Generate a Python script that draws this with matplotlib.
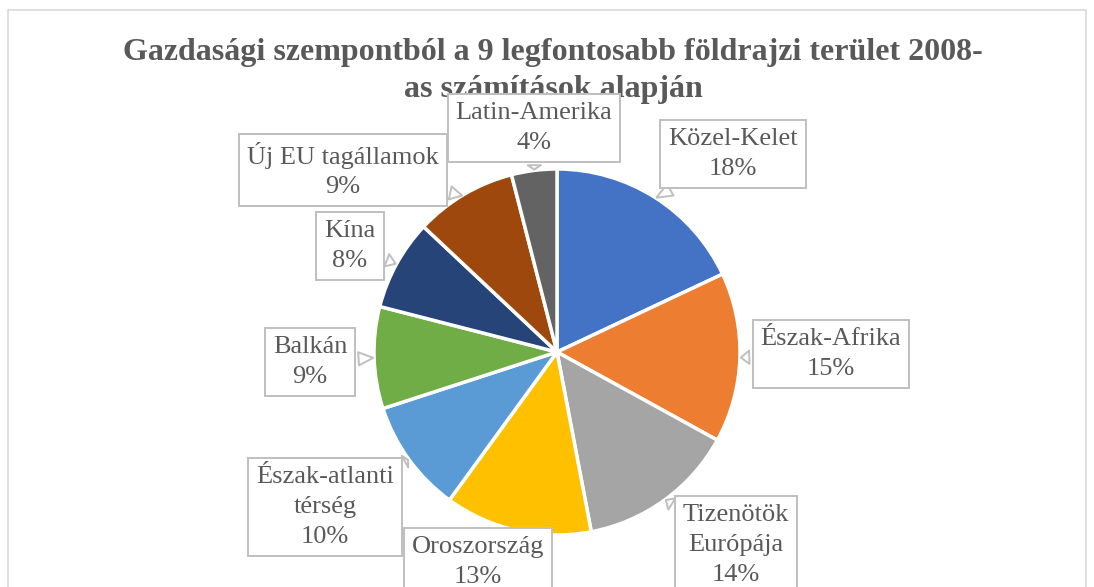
import numpy as np
import matplotlib
matplotlib.use("Agg")
import matplotlib.pyplot as plt
from matplotlib.patches import Rectangle

# data
regions = ["Közel-Kelet", "Észak-Afrika", "Tizenötök\nEurópája", "Oroszország",
           "Észak-atlanti\ntérség", "Balkán", "Kína", "Új EU tagállamok", "Latin-Amerika"]
shares = [18, 15, 14, 13, 10, 9, 8, 9, 4]
colors = ["#4472C4", "#ED7D31", "#A5A5A5", "#FFC000", "#5B9BD5",
          "#70AD47", "#264478", "#9E480E", "#636363"]

# label centres in pixels measured from the top-left corner
label_pos = [(733, 154), (831, 354), (736, 545), (478, 562),
             (325, 507), (310, 362), (350, 246), (343, 170), (534, 128)]

W, H = 1094, 587
cx, cy, R = 557, H - 352, 183

fig = plt.figure(figsize=(W / 100, H / 100), dpi=100)
ax = fig.add_axes([0, 0, 1, 1])

wedges, _ = ax.pie(shares, colors=colors, startangle=90, counterclock=False,
                   center=(cx, cy), radius=R,
                   wedgeprops=dict(edgecolor="white", linewidth=2.5))
ax.set_xlim(0, W)
ax.set_ylim(0, H)
ax.set_aspect("equal")
ax.axis("off")

# outer chart border (bottom edge is cut off in the reference)
ax.add_patch(Rectangle((8, -20), W - 16, H - 10 + 20, fill=False,
                       edgecolor="#d9d9d9", linewidth=1.2))

# title sits underneath the label boxes, like in the reference
ax.text(W / 2 + 6, H - 71, "Gazdasági szempontból a 9 legfontosabb földrajzi terület 2008-\nas számítások alapján",
        ha="center", va="center", fontsize=23, fontweight="bold", color="#595959",
        family="Liberation Serif", linespacing=1.4, zorder=0.5)

for w, name, val, (lx, ly) in zip(wedges, regions, shares, label_pos):
    ang = np.deg2rad((w.theta1 + w.theta2) / 2)
    px = cx + 0.99 * R * np.cos(ang)
    py = cy + 0.99 * R * np.sin(ang)
    ax.annotate(f"{name}\n{val}%", xy=(px, py), xytext=(lx, H - ly),
                ha="center", va="center", fontsize=19, color="#595959",
                family="Liberation Serif", linespacing=1.45, zorder=5,
                bbox=dict(boxstyle="square,pad=0.3", fc="white", ec="#bfbfbf", lw=1.4),
                arrowprops=dict(arrowstyle="wedge,tail_width=0.5,shrink_factor=0.5",
                                fc="white", ec="#bfbfbf", lw=1.4))

fig.savefig("out.png", dpi=100)
